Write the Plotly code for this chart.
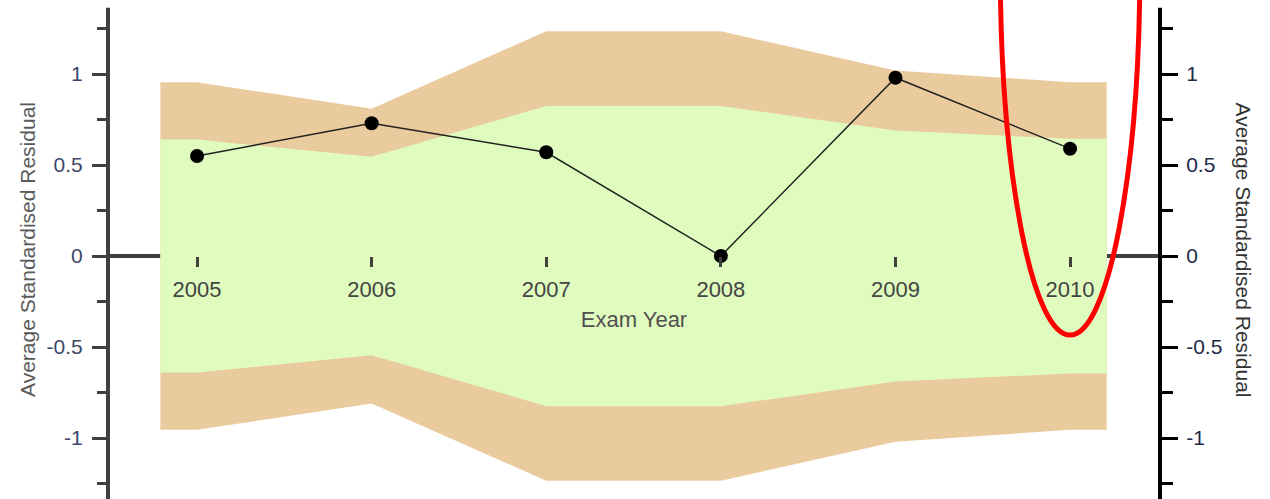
import numpy as np
import plotly.graph_objects as go

# ---- data ----
years = [2005, 2006, 2007, 2008, 2009, 2010]
avg_resid = [0.55, 0.73, 0.57, 0.00, 0.98, 0.59]
inner_limit = [0.64, 0.545, 0.825, 0.825, 0.69, 0.645]     # green band half-width
outer_limit = [0.955, 0.81, 1.235, 1.235, 1.02, 0.955]     # orange band half-width
band_x_pad = 0.21                                          # band extends past first/last year
y_tick_vals = [-1, -0.5, 0, 0.5, 1]
y_tick_text = ["-1", "-0.5", "0", "0.5", "1"]
x_range = [2004.49, 2010.515]
y_range = [-1.335, 1.407]
highlight_year = 2010

FONT = "Liberation Sans, Arial, sans-serif"
ORANGE = "#EACB9D"
GREEN = "#E0FBBE"
AX_GRAY = "#404040"

bx = np.r_[years[0] - band_x_pad, years, years[-1] + band_x_pad]
inner = np.r_[inner_limit[0], inner_limit, inner_limit[-1]]
outer = np.r_[outer_limit[0], outer_limit, outer_limit[-1]]

fig = go.Figure()
fig.add_trace(go.Scatter(
    x=np.r_[bx, bx[::-1]], y=np.r_[outer, -outer[::-1]],
    fill="toself", fillcolor=ORANGE, line=dict(width=0), mode="lines",
    hoverinfo="skip", showlegend=False))
fig.add_trace(go.Scatter(
    x=np.r_[bx, bx[::-1]], y=np.r_[inner, -inner[::-1]],
    fill="toself", fillcolor=GREEN, line=dict(width=0), mode="lines",
    hoverinfo="skip", showlegend=False))
fig.add_trace(go.Scatter(
    x=years, y=avg_resid, mode="lines+markers",
    line=dict(color="#222222", width=1.5),
    marker=dict(color="black", size=14),
    showlegend=False))
# transparent copy on the secondary axis so the right-hand axis is drawn
fig.add_trace(go.Scatter(
    x=years, y=avg_resid, yaxis="y2", mode="markers",
    marker=dict(opacity=0), hoverinfo="skip", showlegend=False))

# red highlight ellipse around the last year
fig.add_shape(type="circle", xref="x", yref="y",
              x0=highlight_year - 0.40, x1=highlight_year + 0.40,
              y0=-0.434, y1=3.632,
              line=dict(color="#FF0000", width=5), layer="above")

# vertical axis lines
fig.add_shape(type="line", xref="paper", yref="y", x0=0, x1=0,
              y0=y_range[0], y1=1.365, line=dict(color=AX_GRAY, width=4))
fig.add_shape(type="line", xref="paper", yref="y", x0=1, x1=1,
              y0=y_range[0], y1=1.365, line=dict(color="black", width=4))

zero_pos = (0 - y_range[0]) / (y_range[1] - y_range[0])

fig.update_layout(
    width=1270, height=499,
    margin=dict(l=108, r=110, t=0, b=0, autoexpand=False),
    paper_bgcolor="white", plot_bgcolor="white",
    font=dict(family=FONT),
    xaxis=dict(
        range=x_range, anchor="free", position=zero_pos, automargin=False,
        tickvals=years, ticktext=[str(y) for y in years],
        ticks="outside", ticklen=10, tickwidth=3, tickcolor=AX_GRAY,
        tickfont=dict(size=22, color="#444444", family=FONT),
        ticklabelstandoff=4,
        showgrid=False, zeroline=False, showline=False,
        layer="above traces",
        title=dict(text="Exam Year", font=dict(size=22, color="#505050", family=FONT),
                   standoff=10),
    ),
    yaxis=dict(
        range=y_range, tickvals=y_tick_vals, ticktext=y_tick_text, automargin=False,
        ticks="outside", ticklen=15, tickwidth=3, tickcolor=AX_GRAY,
        minor=dict(dtick=0.25, tick0=0, ticks="outside", ticklen=10,
                   tickwidth=3, tickcolor=AX_GRAY),
        tickfont=dict(size=21, color="#3B4868", family=FONT),
        ticklabelstandoff=5,
        showgrid=False, showline=False,
        zeroline=True, zerolinecolor=AX_GRAY, zerolinewidth=4,
        layer="above traces",
        title=dict(text="Average Standardised Residual",
                   font=dict(size=21, color="#5A5A5A", family=FONT), standoff=5),
    ),
    yaxis2=dict(
        range=y_range, overlaying="y", side="right", anchor="x", automargin=False,
        tickvals=y_tick_vals, ticktext=y_tick_text,
        ticks="outside", ticklen=17, tickwidth=3, tickcolor="black",
        minor=dict(dtick=0.25, tick0=0, ticks="outside", ticklen=12,
                   tickwidth=3, tickcolor="black"),
        tickfont=dict(size=21, color="#1E2A48", family=FONT),
        ticklabelstandoff=4,
        showgrid=False, showline=False, zeroline=False,
    ),
    annotations=[dict(
        text="Average Standardised Residual", xref="paper", yref="paper",
        x=1 + (1243 - 1160) / 1052, y=0.5, textangle=90, showarrow=False,
        font=dict(size=21, color="#333333", family=FONT),
        xanchor="center", yanchor="middle")],
)

fig.write_html("out.html", config={"displayModeBar": False},
               post_script="document.body.style.margin='0';")
